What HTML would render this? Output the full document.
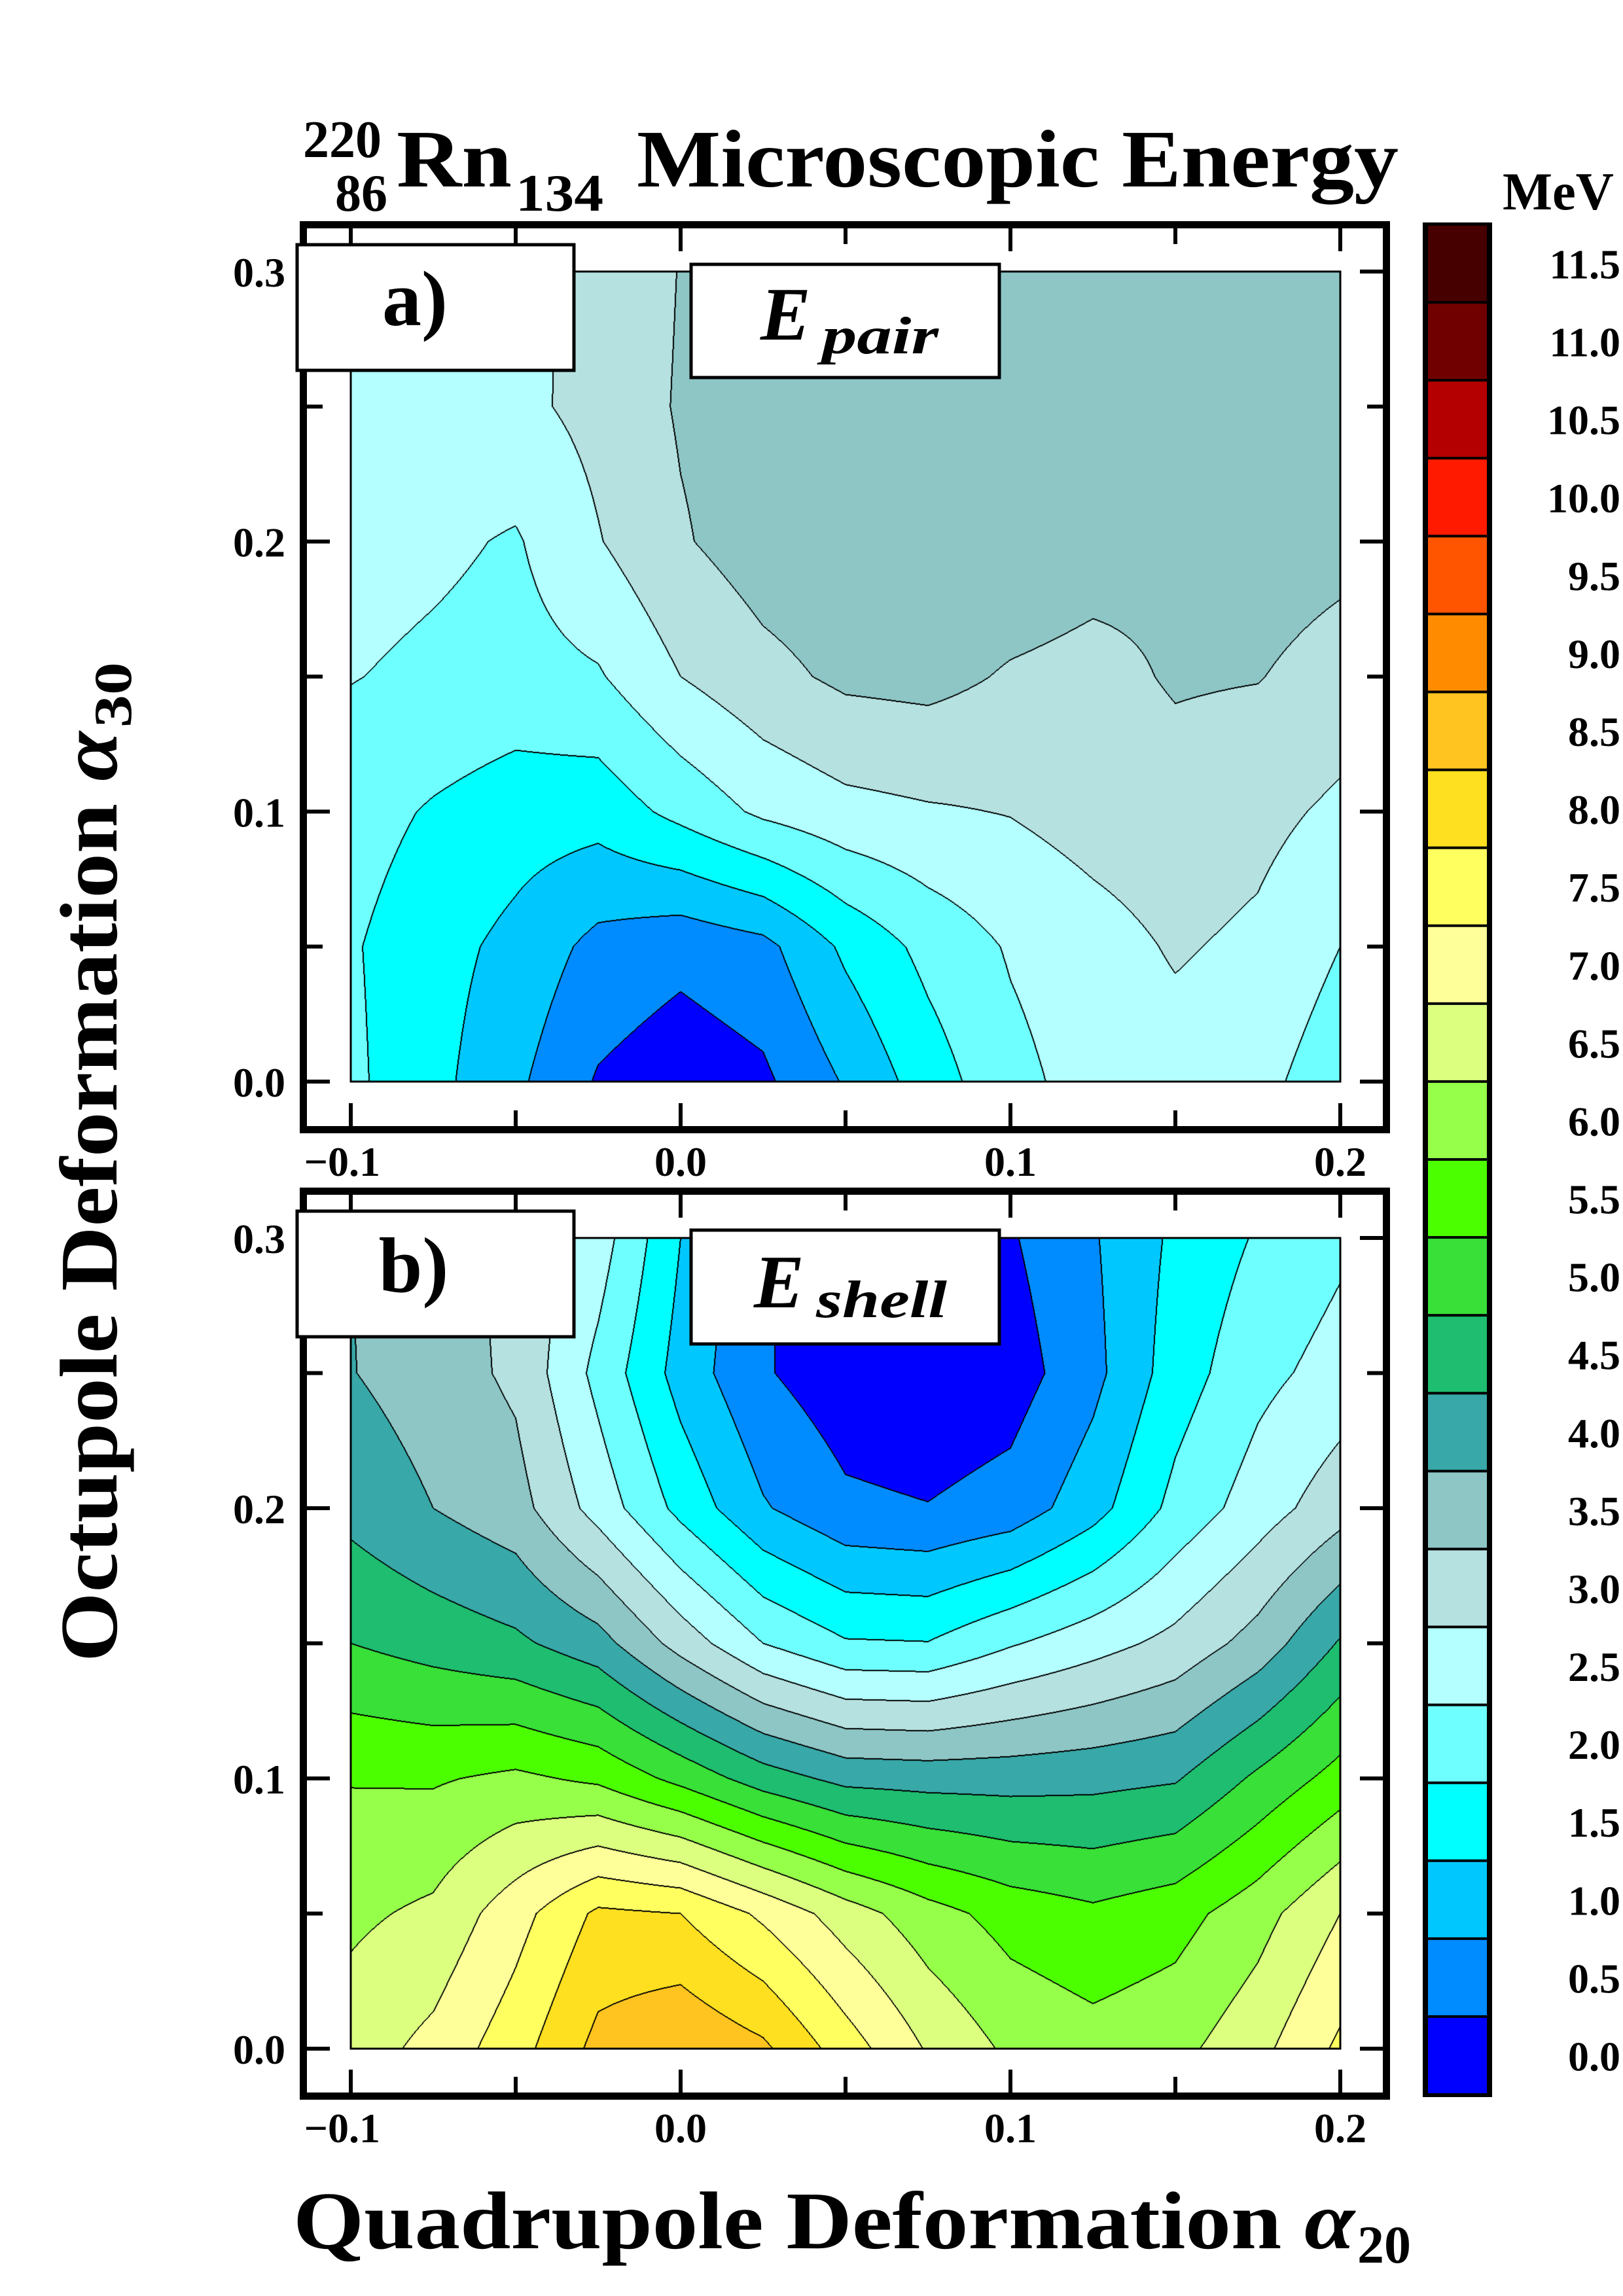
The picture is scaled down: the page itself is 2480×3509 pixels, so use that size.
<!DOCTYPE html>
<html><head><meta charset="utf-8">
<style>
html,body{margin:0;padding:0;background:#fff;}
#page{position:relative;width:2480px;height:3509px;overflow:hidden;background:#fff;}
canvas{position:absolute;}
svg{position:absolute;left:0;top:0;}
text{font-family:"Liberation Serif",serif;font-weight:bold;fill:#000;}
</style></head>
<body>
<div id="page">
<canvas id="cva" width="1512" height="1238" style="left:536px;top:415px;width:1512px;height:1238px"></canvas>
<canvas id="cvb" width="1512" height="1239" style="left:536px;top:1892px;width:1512px;height:1239px"></canvas>
<svg id="ov" width="2480" height="3509" viewBox="0 0 2480 3509">
  <g>
    <text x="463" y="240" font-size="80">220</text>
    <text x="512" y="322" font-size="80">86</text>
    <text x="606" y="285" font-size="125" textLength="176" lengthAdjust="spacingAndGlyphs">Rn</text>
    <text x="788" y="322" font-size="80" textLength="134" lengthAdjust="spacingAndGlyphs">134</text>
    <text x="973" y="285" font-size="125" textLength="1164" lengthAdjust="spacingAndGlyphs">Microscopic Energy</text>
  </g>
  <text x="2296" y="320" font-size="82" textLength="170" lengthAdjust="spacingAndGlyphs">MeV</text>
  <g transform="translate(178,2540) rotate(-90)">
    <text x="0" y="0" font-size="125" textLength="1422" lengthAdjust="spacingAndGlyphs">Octupole Deformation <tspan font-style="italic">α</tspan></text>
    <text x="1428" y="22" font-size="82" textLength="100" lengthAdjust="spacingAndGlyphs">30</text>
  </g>
  <g>
    <text x="448" y="3436" font-size="125" textLength="1622" lengthAdjust="spacingAndGlyphs">Quadrupole Deformation <tspan font-style="italic">α</tspan></text>
    <text x="2074" y="3458" font-size="82" textLength="82" lengthAdjust="spacingAndGlyphs">20</text>
  </g>
  <g id="axesg"></g>
  <g id="cbar"></g>
  <g>
    <rect x="454" y="374" width="423" height="192" fill="#fff" stroke="#000" stroke-width="5"/>
    <text x="634" y="497" font-size="120" text-anchor="middle">a)</text>
  </g>
  <g>
    <rect x="1056" y="404" width="471" height="173" fill="#fff" stroke="#000" stroke-width="5"/>
    <text x="1162" y="519" font-size="115" font-style="italic">E</text>
    <text x="1256" y="540" font-size="80" font-style="italic" textLength="178" lengthAdjust="spacingAndGlyphs">pair</text>
  </g>
  <g>
    <rect x="454" y="1851" width="423" height="192" fill="#fff" stroke="#000" stroke-width="5"/>
    <text x="632" y="1974" font-size="120" text-anchor="middle">b)</text>
  </g>
  <g>
    <rect x="1056" y="1880" width="471" height="174" fill="#fff" stroke="#000" stroke-width="5"/>
    <text x="1152" y="1998" font-size="115" font-style="italic">E</text>
    <text x="1247" y="2013" font-size="80" font-style="italic" textLength="200" lengthAdjust="spacingAndGlyphs">shell</text>
  </g>
</svg>
</div>
<script>
// ---- data ----
const xVals = [-0.1,-0.075,-0.05,-0.025,0,0.025,0.05,0.075,0.1,0.125,0.15,0.175,0.2];
const yVals = [0,0.05,0.1,0.15,0.2,0.25,0.3];
const pairValues = [
  [2.1,1.65,1.1,0.45,0.2,0.4,1.05,1.75,2.35,2.7,2.8,2.65,2.2],
  [2.05,1.7,1.35,0.85,0.65,0.85,1.6,2.15,2.55,2.8,3.05,2.9,2.5],
  [2.2,1.95,1.75,1.7,2.15,2.6,2.85,2.95,3.02,3.2,3.3,3.15,2.9],
  [2.52,2.4,2.3,2.45,3.0,3.35,3.6,3.65,3.45,3.35,3.55,3.52,3.3],
  [2.7,2.6,2.45,2.97,3.45,3.75,3.85,3.9,3.85,3.7,3.6,3.75,3.65],
  [2.75,2.8,2.88,3.15,3.55,3.75,3.85,3.9,3.93,3.95,3.97,3.97,3.9],
  [2.75,2.8,2.9,3.1,3.52,3.7,3.8,3.85,3.88,3.9,3.9,3.9,3.85]
];
const shellValues = [
  [6.75,7.15,7.8,8.65,8.95,8.6,7.75,6.95,6.4,6.2,6.35,6.85,7.6],
  [6.4,6.6,7.3,8.1,8.0,7.4,6.75,6.2,5.8,5.6,5.8,6.3,7.0],
  [5.97,5.95,6.1,5.9,5.35,4.75,4.35,4.3,4.3,4.35,4.45,5.1,5.7],
  [5.0,4.8,4.6,4.2,3.3,2.5,2.05,2.02,2.45,2.8,3.15,3.7,4.55],
  [4.35,4.0,3.7,2.8,1.85,1.05,0.6,0.52,0.7,1.3,2.15,2.75,3.3],
  [4.02,3.75,3.4,2.35,1.3,0.55,0.2,0.1,0.25,0.85,1.75,2.35,2.7],
  [4.0,3.75,3.35,2.75,1.5,0.55,0.2,0.1,0.45,0.95,1.6,2.05,2.4]
];
const levelStep = 0.5;
const levelColors = ["#0000ff","#008cff","#00c8ff","#00ffff","#6effff","#b4ffff","#b6e1e1","#8ec6c6","#38a8a8","#1ebd70","#38e038","#4cff00","#96ff4a","#dcff80","#ffff9a","#ffff60","#ffe020","#ffc420","#ff8c00","#ff5500","#ff1a00","#b40000","#700000","#460000"];
const levelLabels = ["0.0","0.5","1.0","1.5","2.0","2.5","3.0","3.5","4.0","4.5","5.0","5.5","6.0","6.5","7.0","7.5","8.0","8.5","9.0","9.5","10.0","10.5","11.0","11.5"];
const xMajor = [-0.1,0,0.1,0.2];
const xMajorLabels = ["\u22120.1","0.0","0.1","0.2"];
const xMinor = [-0.05,0.05,0.15];
const yMajor = [0,0.1,0.2,0.3];
const yMajorLabels = ["0.0","0.1","0.2","0.3"];
const yMinor = [0.05,0.15,0.25];

// ---- geometry ----
const PL = 536, PR = 2048, XMIN = -0.1, XMAX = 0.2, YMAX = 0.3;
const panels = [
  {canvas:'cva', values:pairValues, top:415, bottom:1653, frameTop:338, frameBottom:1732, name:'a'},
  {canvas:'cvb', values:shellValues, top:1892, bottom:3131, frameTop:1815, frameBottom:3209, name:'b'}
];
function xPix(v){ return PL + (v - XMIN) / (XMAX - XMIN) * (PR - PL); }
function yPix(p, v){ return p.bottom - v / YMAX * (p.bottom - p.top); }
function hex(c){ return [parseInt(c.slice(1,3),16),parseInt(c.slice(3,5),16),parseInt(c.slice(5,7),16)]; }
const rgb = levelColors.map(hex);

function sample(vals, x, y){
  let fx = (x - xVals[0]) / (xVals[1] - xVals[0]);
  let fy = (y - yVals[0]) / (yVals[1] - yVals[0]);
  fx = Math.max(0, Math.min(xVals.length - 1.0001, fx));
  fy = Math.max(0, Math.min(yVals.length - 1.0001, fy));
  const i = Math.floor(fx), j = Math.floor(fy), tx = fx - i, ty = fy - j;
  const a = vals[j][i], b = vals[j][i+1], c = vals[j+1][i], d = vals[j+1][i+1];
  return (a*(1-tx) + b*tx)*(1-ty) + (c*(1-tx) + d*tx)*ty;
}

panels.forEach(function(p){
  const cv = document.getElementById(p.canvas);
  const W = cv.width, H = cv.height, ctx = cv.getContext('2d');
  const img = ctx.createImageData(W, H);
  const idx = new Int16Array(W*H);
  for (let py = 0; py < H; py++){
    const y = YMAX - (py + 0.5) / H * YMAX;
    for (let px = 0; px < W; px++){
      const x = XMIN + (px + 0.5) / W * (XMAX - XMIN);
      let k = Math.floor(sample(p.values, x, y) / levelStep);
      k = Math.max(0, Math.min(levelColors.length - 1, k));
      idx[py*W + px] = k;
    }
  }
  for (let py = 0; py < H; py++){
    for (let px = 0; px < W; px++){
      const q = py*W + px, k = idx[q];
      let edge = false;
      if (px + 1 < W && idx[q+1] !== k) edge = true;
      if (px > 0 && idx[q-1] !== k) edge = true;
      if (py + 1 < H && idx[q+W] !== k) edge = true;
      if (py > 0 && idx[q-W] !== k) edge = true;
      const c = edge ? [0,0,0] : rgb[k];
      img.data[q*4] = c[0]; img.data[q*4+1] = c[1]; img.data[q*4+2] = c[2]; img.data[q*4+3] = 255;
    }
  }
  ctx.putImageData(img, 0, 0);
});

// ---- axes ----
const NS = 'http://www.w3.org/2000/svg';
function mk(tag, attrs, parent){
  const e = document.createElementNS(NS, tag);
  for (const k in attrs) e.setAttribute(k, attrs[k]);
  parent.appendChild(e);
  return e;
}
const axesg = document.getElementById('axesg');
panels.forEach(function(p){
  const g = mk('g', {}, axesg);
  
  
  const plotBox = mk('rect', {x:PL, y:p.top, width:PR-PL, height:p.bottom-p.top, fill:'none', stroke:'#000', 'stroke-width':3}, g);
  
  
  const frame = mk('rect', {x:463.5, y:p.frameTop+5.5, width:1655, height:p.frameBottom-p.frameTop-11, fill:'none', stroke:'#000', 'stroke-width':11}, g);
  
  
  const inTop = p.frameTop + 11, inBot = p.frameBottom - 11, inL = 469, inR = 2113;
  function tick(x1,y1,x2,y2){
    const t = mk('line', {x1:x1,y1:y1,x2:x2,y2:y2, stroke:'#000', 'stroke-width':6}, g);
    
    
  }
  xMajor.forEach(function(v){ const x = xPix(v); tick(x,inBot,x,inBot-35); tick(x,inTop,x,inTop+35); });
  xMinor.forEach(function(v){ const x = xPix(v); tick(x,inBot,x,inBot-24); tick(x,inTop,x,inTop+24); });
  yMajor.forEach(function(v){ const y = yPix(p,v); tick(inL,y,inL+35,y); tick(inR,y,inR-35,y); });
  yMinor.forEach(function(v){ const y = yPix(p,v); tick(inL,y,inL+24,y); tick(inR,y,inR-24,y); });
  xMajor.forEach(function(v,i){
    const first = (i === 0);
    const t = mk('text', {x: first ? 581 : xPix(v), y: p.frameBottom + 65, 'font-size':64, 'text-anchor': first ? 'end' : 'middle'}, g);
    t.textContent = xMajorLabels[i];
    
    
  });
  yMajor.forEach(function(v,i){
    const t = mk('text', {x:436, y:yPix(p,v)+23, 'font-size':64, 'text-anchor':'end'}, g);
    t.textContent = yMajorLabels[i];
    
    
  });
});

// ---- colorbar ----
const cbar = document.getElementById('cbar');


const CB_TOP = 343, CB_BOT = 3201;
const bg = mk('rect', {x:2174, y:340, width:106, height:2865, fill:'#000'}, cbar);


const bh = (CB_BOT - CB_TOP) / levelColors.length;
levelColors.forEach(function(c, k){
  const y0 = CB_BOT - (k+1)*bh;
  const r = mk('rect', {x:2182, y:y0+2, width:90, height:bh-4, fill:c}, cbar);
  
  
  const t = mk('text', {x:2476, y:y0 + bh/2 + 23, 'font-size':64, 'text-anchor':'end'}, cbar);
  t.textContent = levelLabels[k];
  
  
});
</script>
</body></html>
